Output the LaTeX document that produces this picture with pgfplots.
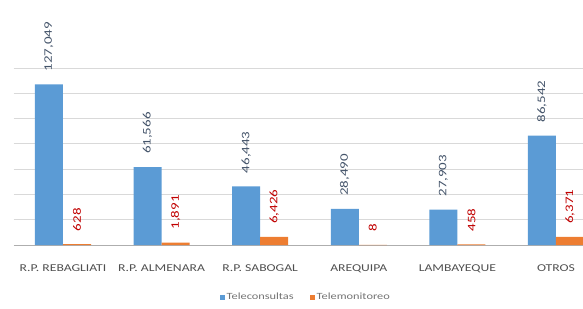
\documentclass[border=0pt]{standalone}
\usepackage{fontspec}
\setmainfont{Carlito}[FakeStretch=1.3]
\usepackage{pgfplots}
\pgfplotsset{compat=1.18}
\definecolor{cblue}{RGB}{91,155,213}
\definecolor{corange}{RGB}{237,125,49}
\definecolor{labblue}{RGB}{68,84,106}
\definecolor{labred}{RGB}{192,0,0}
\definecolor{gridc}{RGB}{217,217,217}
\definecolor{txt}{RGB}{80,80,80}
\begin{document}
\begin{tikzpicture}
\useasboundingbox (0,0) rectangle (583pt,308pt);
\begin{axis}[
  at={(13.7pt,63pt)}, anchor=south west,
  scale only axis, width=569.3pt, height=177pt,
  xmin=-0.5, xmax=5.274, ymin=0, ymax=140000,
  clip=false,
  ybar=0pt, bar width=28pt,
  axis x line*=bottom,
  y axis line style={draw=none},
  x axis line style={draw=gridc!80!black, line width=0.8pt, -},
  ytick={20000,40000,...,140000},
  yticklabels={},
  scaled y ticks=false,
  ytick style={draw=none},
  ymajorgrids, grid style={gridc, line width=0.8pt},
  xtick={0,1,2,3,4,5},
  xticklabels={R.P. REBAGLIATI,R.P. ALMENARA,R.P. SABOGAL,AREQUIPA,LAMBAYEQUE,OTROS},
  xtick style={draw=none},
  xticklabel style={font=\fontsize{10.5}{12}\selectfont, text=txt, anchor=north, inner sep=0pt, yshift=-15pt},
  /pgf/number format/fixed,
  /pgf/number format/1000 sep={,},
  /pgf/number format/assume math mode=true,
  nodes near coords,
  every node near coord/.append style={rotate=90, anchor=west, inner xsep=13pt, inner ysep=0pt, font=\fontsize{11.5}{13}\selectfont},
  legend columns=2,
  legend style={draw=none, fill=none, at={(0.513,-0.294)}, anchor=center,
    font=\fontsize{9.5}{11}\selectfont, text=txt!80,
    /tikz/every even column/.append style={column sep=14pt}},
  legend image code/.code={\fill[#1] (0pt,-2.5pt) rectangle (5pt,2.5pt);},
]
\addplot[fill=cblue, draw=none, every node near coord/.append style={text=labblue}]
  coordinates {(0,127049) (1,61566) (2,46443) (3,28490) (4,27903) (5,86542)};
\addplot[fill=corange, draw=none, every node near coord/.append style={text=labred}]
  coordinates {(0,628) (1,1891) (2,6426) (3,8) (4,458) (5,6371)};
\legend{Teleconsultas,Telemonitoreo}
\end{axis}
\end{tikzpicture}
\end{document}
